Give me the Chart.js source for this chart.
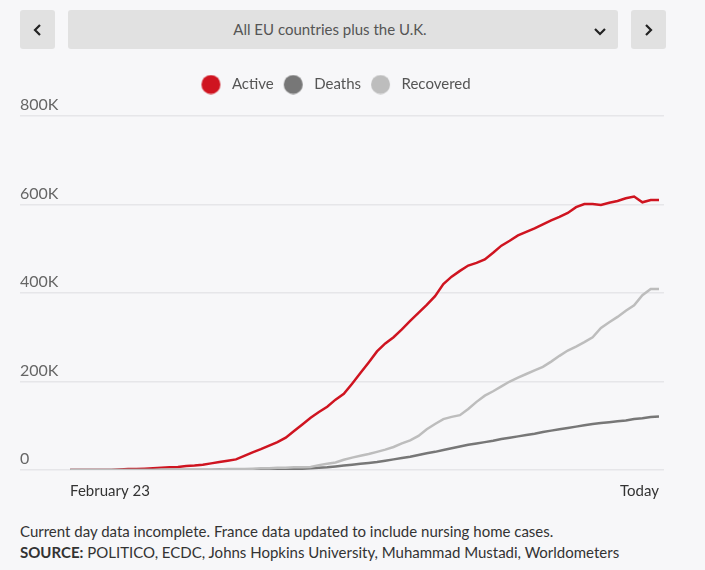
<!DOCTYPE html>
<html>
<head>
<meta charset="utf-8">
<script src="https://cdn.jsdelivr.net/npm/chart.js@4/dist/chart.umd.min.js"></script>
<style>
    body { margin: 0; background: #f7f7f9; font-family: Lato, "Open Sans", sans-serif; }
    .page { position: relative; width: 705px; height: 570px; overflow: hidden; }
    .btn { position: absolute; top: 10px; width: 35px; height: 39px; background: #e1e1e1; border-radius: 3px; }
    .btn svg, .select svg { position: absolute; }
    .select { position: absolute; top: 10px; left: 68px; width: 524px; padding-right: 26px; height: 39px;
              background: #e1e1e1; border-radius: 3px; color: #555; font-size: 15px; text-align: center; line-height: 39px; }
    .chart-box { position: absolute; left: 20px; top: 66px; width: 651px; height: 446px; }
    .note { position: absolute; left: 20px; top: 521px; font-size: 15px; color: #333; line-height: 21px; }
</style>
</head>
<body>
<div class="page">
    <div class="btn" style="left:20px;">
        <svg width="35" height="39"><polyline points="20,15 15,20 20,25" fill="none" stroke="#222" stroke-width="2.2"/></svg>
    </div>
    <div class="select">All EU countries plus the U.K.
        <svg width="550" height="39" style="left:0;top:0;"><polyline points="527,19 532,24 537,19" fill="none" stroke="#222" stroke-width="2.2"/></svg>
    </div>
    <div class="btn" style="left:631px;">
        <svg width="35" height="39"><polyline points="15,15 20,20 15,25" fill="none" stroke="#222" stroke-width="2.2"/></svg>
    </div>
    <div class="chart-box"><canvas id="covidChart"></canvas></div>
    <div class="note">
        Current day data incomplete. France data updated to include nursing home cases.<br>
        <b>SOURCE:</b> POLITICO, ECDC, Johns Hopkins University, Muhammad Mustadi, Worldometers
    </div>
</div>
<script>
// values in thousands, one per day from February 23 to today
const seriesNames = ['Active', 'Deaths', 'Recovered'];
const xTickLabels = ['February 23', 'Today'];
const yTickValues = [0, 200, 400, 600, 800];

const active = [0, 0, 0, 0, 0, 0, 1, 2, 2, 3, 4, 5, 6, 7, 9, 10, 12, 15, 18, 21,
    24, 32, 40, 47, 55, 63, 73, 88, 103, 118, 131, 143, 159, 172, 195, 219, 243, 268, 286, 300,
    318, 337, 355, 373, 393, 420, 437, 450, 462, 468, 476, 491, 507, 518, 530, 538, 546, 555, 564, 572,
    581, 594, 601, 601, 599, 604, 608, 614, 618, 605, 610, 610];
const deaths = [0, 0, 0, 0, 0, 0, 0, 0, 0, 0, 0, 0, 0, 0, 0, 0, 0, 0, 1, 1,
    1, 1, 1, 1, 1, 1, 2, 2, 3, 4, 5, 6, 8, 10, 12, 14, 16, 18, 21, 24,
    27, 30, 34, 38, 41, 45, 49, 53, 57, 60, 63, 66, 70, 73, 76, 79, 82, 86, 89, 92,
    95, 98, 101, 104, 106, 108, 110, 112, 115, 117, 120, 121];
const recovered = [0, 0, 0, 0, 0, 0, 0, 0, 0, 0, 0, 1, 1, 1, 1, 1, 1, 1, 1, 2,
    2, 2, 3, 4, 4, 5, 5, 6, 6, 7, 11, 14, 17, 23, 28, 32, 36, 41, 46, 52,
    60, 67, 77, 92, 104, 115, 120, 124, 138, 154, 168, 178, 189, 200, 209, 217, 225, 233, 245, 258,
    270, 279, 289, 300, 321, 334, 346, 360, 372, 395, 409, 409];

const colors = ['#cf1420', '#777777', '#bdbdbd'];

function toPoints(values) {
    return values.map((v, i) => ({ x: i, y: v * 1000 }));
}

// legend dot with some room on its right before the text
function legendDot(color) {
    const c = document.createElement('canvas');
    c.width = 30;
    c.height = 20;
    const g = c.getContext('2d');
    g.fillStyle = color;
    g.beginPath();
    g.arc(12.5, 10, 9.5, 0, Math.PI * 2);
    g.fill();
    return c;
}

const lastDay = active.length - 1;

const datasets = [active, deaths, recovered].map((values, idx) => ({
    label: seriesNames[idx],
    data: toPoints(values),
    borderColor: colors[idx],
    backgroundColor: colors[idx],
    borderWidth: 2.5,
    pointRadius: 0,
    pointStyle: legendDot(colors[idx]),
    tension: 0,
    // recovered on top, active underneath
    order: 2 - idx
}));

// extra space under the legend, and nudge it a bit to the left
const legendTweak = {
    id: 'legendTweak',
    beforeInit(chart) {
        const legend = chart.legend;
        const fit = legend.fit;
        const draw = legend.draw;
        legend.fit = function() {
            fit.call(legend);
            this.height += 14;
        };
        legend.draw = function() {
            const c = chart.ctx;
            c.save();
            c.translate(-9, 0);
            draw.call(legend);
            c.restore();
        };
    }
};

const ctx = document.getElementById('covidChart').getContext('2d');
new Chart(ctx, {
    type: 'line',
    data: { datasets: datasets },
    plugins: [legendTweak],
    options: {
        responsive: true,
        maintainAspectRatio: false,
        animation: false,
        layout: { padding: 0 },
        scales: {
            x: {
                type: 'linear',
                min: -6.04,
                max: lastDay + 0.6,
                afterBuildTicks: function(scale) {
                    scale.ticks = [{ value: 0 }, { value: lastDay }];
                },
                ticks: {
                    align: 'inner',
                    autoSkip: false,
                    maxRotation: 0,
                    padding: 12,
                    color: '#333',
                    font: { family: 'Lato', size: 15 },
                    callback: function(value) {
                        return value === 0 ? xTickLabels[0] : xTickLabels[1];
                    }
                },
                grid: { display: false, drawTicks: false },
                border: { display: false }
            },
            y: {
                min: 0,
                max: 800000,
                afterBuildTicks: function(scale) {
                    scale.ticks = yTickValues.map(v => ({ value: v * 1000 }));
                },
                ticks: {
                    mirror: true,
                    padding: 0,
                    labelOffset: -11,
                    color: '#666',
                    font: { family: 'Lato', size: 16 },
                    callback: function(value) {
                        return value === 0 ? '0' : (value / 1000) + 'K';
                    }
                },
                grid: {
                    color: '#e6e6e9',
                    lineWidth: 1.5,
                    drawTicks: false
                },
                border: { display: false }
            }
        },
        plugins: {
            legend: {
                position: 'top',
                labels: {
                    usePointStyle: true,
                    pointStyleWidth: 22,
                    boxHeight: 13,
                    padding: 11,
                    color: '#555',
                    font: { family: 'Lato', size: 15 },
                    sort: (a, b) => a.datasetIndex - b.datasetIndex
                }
            },
            tooltip: { enabled: false }
        }
    }
});
</script>
</body>
</html>
